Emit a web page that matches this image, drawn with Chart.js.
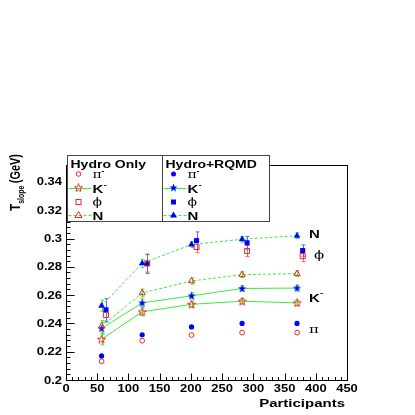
<!DOCTYPE html>
<html>
<head>
<meta charset="UTF-8">
<script src="https://cdn.jsdelivr.net/npm/chart.js"></script>
<style>
  html, body { margin: 0; padding: 0; background: #fff; }
</style>
</head>
<body>
<canvas id="c" width="415" height="415"></canvas>
<script>
// participants (x) for N, K-, pi points and the slightly shifted phi points
const participants = [57, 122, 201, 282, 370]
const participantsPhi = [64, 130, 209, 290, 379]

// Hydro+RQMD
const rqmdN = [0.2525, 0.2825, 0.2958, 0.2995, 0.3020]
const rqmdK = [0.2365, 0.2545, 0.2595, 0.2647, 0.2650]
const rqmdPi = [0.2170, 0.2320, 0.2375, 0.2400, 0.2400]
const rqmdPhi = [0.2495, 0.2822, 0.2985, 0.2970, 0.2915]
const rqmdPhiErr = [0.0080, 0.0068, 0.0062, 0.0045, 0.0040]

// Hydro only
const onlyN = [0.2380, 0.2615, 0.2700, 0.2745, 0.2752]
const onlyK = [0.2288, 0.2482, 0.2535, 0.2557, 0.2545]
const onlyPi = [0.2132, 0.2278, 0.2318, 0.2335, 0.2335]
const onlyPhi = [0.2460, 0.2825, 0.2940, 0.2912, 0.2876]
const onlyPhiErr = [0.0050, 0.0062, 0.0040, 0.0040, 0.0040]

// error on the hydro curves (green bars)
const curveErr = [0.0040, 0.0028, 0.0022, 0.0020, 0.0020]

const xTicks = [0, 50, 100, 150, 200, 250, 300, 350, 400, 450]
const yTicks = [0.2, 0.22, 0.24, 0.26, 0.28, 0.3, 0.32, 0.34]
const xTickLabels = ['0', '50', '100', '150', '200', '250', '300', '350', '400', '450']
const yTickLabels = ['0.2', '0.22', '0.24', '0.26', '0.28', '0.3', '0.32', '0.34']

const BLUE = '#0000ff'
const RED = '#ff2020'
const GREEN = '#3ee83e'
const SQ = 0.78 // vertical squash of all text (picture was stretched)

function pts(xs, ys) { return xs.map((x, i) => ({ x: x, y: ys[i] })) }

function starPath(ctx, cx, cy, ro, ri) {
  ctx.beginPath()
  for (let i = 0; i < 10; i++) {
    const r = i % 2 ? ri : ro
    const a = -Math.PI / 2 + i * Math.PI / 5
    ctx.lineTo(cx + r * Math.cos(a), cy + r * Math.sin(a))
  }
  ctx.closePath()
}

function makeStar(filled) {
  const c = document.createElement('canvas')
  c.width = 9; c.height = 9
  const g = c.getContext('2d')
  starPath(g, 4.5, 4.8, 4.2, 1.8)
  if (filled) { g.fillStyle = BLUE; g.fill() }
  else { g.strokeStyle = RED; g.lineWidth = 1; g.stroke() }
  return c
}
const blueStar = makeStar(true)
const redStar = makeStar(false)

function txt(ctx, s, x, y, font, align, sx, sy) {
  ctx.save()
  ctx.translate(x, y)
  ctx.scale(sx || 1, sy || SQ)
  ctx.font = font
  ctx.textAlign = align || 'left'
  ctx.textBaseline = 'alphabetic'
  ctx.fillStyle = '#000'
  ctx.fillText(s, 0, 0)
  ctx.restore()
}

function errBars(ctx, xs, ys, es, color, xScale, yScale) {
  ctx.save()
  ctx.strokeStyle = color
  ctx.lineWidth = 1
  xs.forEach((x, i) => {
    const px = Math.round(xScale.getPixelForValue(x)) + 0.5
    const y1 = yScale.getPixelForValue(ys[i] - es[i])
    const y2 = yScale.getPixelForValue(ys[i] + es[i])
    ctx.beginPath()
    ctx.moveTo(px, y1); ctx.lineTo(px, y2)
    ctx.moveTo(px - 2, y1); ctx.lineTo(px + 2, y1)
    ctx.moveTo(px - 2, y2); ctx.lineTo(px + 2, y2)
    ctx.stroke()
  })
  ctx.restore()
}

const rootPlugin = {
  id: 'rootStyle',
  beforeDatasetsDraw(chart) {
    const ctx = chart.ctx
    const xs = chart.scales.x, ys = chart.scales.y
    errBars(ctx, participants, rqmdN, curveErr, GREEN, xs, ys)
    errBars(ctx, participants, onlyN, curveErr, GREEN, xs, ys)
    errBars(ctx, participants, rqmdK, curveErr, GREEN, xs, ys)
    errBars(ctx, participants, onlyK, curveErr, GREEN, xs, ys)
    errBars(ctx, participantsPhi, onlyPhi, onlyPhiErr, '#ff6060', xs, ys)
    errBars(ctx, participantsPhi, rqmdPhi, rqmdPhiErr, '#6060ff', xs, ys)
  },
  afterDraw(chart) {
    const ctx = chart.ctx
    const a = chart.chartArea
    const xs = chart.scales.x, ys = chart.scales.y
    const L = a.left + 0.5, R = a.right + 0.5, T = a.top + 0.5, B = a.bottom + 0.5

    // frame
    ctx.save()
    ctx.strokeStyle = '#000'
    ctx.lineWidth = 1
    ctx.strokeRect(L, T, R - L, B - T)

    // inward ticks
    ctx.beginPath()
    for (let v = 0; v <= 450; v += 10) {
      const px = Math.round(xs.getPixelForValue(v)) + 0.5
      const len = v % 50 === 0 ? 7 : 3.5
      ctx.moveTo(px, B); ctx.lineTo(px, B - len)
    }
    for (let k = 0; k <= 38; k++) {
      const v = 0.2 + k * 0.004
      const py = Math.round(ys.getPixelForValue(v)) + 0.5
      if (py < T) break
      const len = k % 5 === 0 ? 8 : 4
      ctx.moveTo(L, py); ctx.lineTo(L + len, py)
    }
    ctx.stroke()
    ctx.restore()

    // tick labels
    const tf = 'bold 13px "Liberation Sans", Arial, sans-serif'
    xTicks.forEach((v, i) => {
      txt(ctx, xTickLabels[i], xs.getPixelForValue(v), 392, tf, 'center')
    })
    yTicks.forEach((v, i) => {
      txt(ctx, yTickLabels[i], 62, ys.getPixelForValue(v) + 3.5, tf, 'right')
    })

    // axis titles
    txt(ctx, 'Participants', 345, 407, 'bold 15px "Liberation Sans", Arial, sans-serif', 'right')
    ctx.save()
    ctx.translate(20, 211)
    ctx.rotate(-Math.PI / 2)
    ctx.scale(SQ, 1)
    ctx.fillStyle = '#000'
    ctx.textBaseline = 'alphabetic'
    ctx.font = 'bold 15px "Liberation Sans", Arial, sans-serif'
    ctx.fillText('T', 0, 0)
    let w = ctx.measureText('T').width
    ctx.font = 'bold 9px "Liberation Sans", Arial, sans-serif'
    ctx.fillText('slope', w, 4)
    w += ctx.measureText('slope').width + 3
    ctx.font = 'bold 14px "Liberation Sans", Arial, sans-serif'
    ctx.fillText('(GeV)', w, 0)
    ctx.restore()

    // labels at the right of the curves
    const bf = 'bold 15px "Liberation Sans", Arial, sans-serif'
    const sf = '15px "DejaVu Serif", "Liberation Serif", serif'
    txt(ctx, 'N', 309, 238, bf)
    txt(ctx, '\u03d5', 314, 259, sf)
    txt(ctx, 'K', 309, 302, bf)
    txt(ctx, '-', 320, 295, 'bold 10px "Liberation Sans", Arial, sans-serif')
    txt(ctx, '\u03c0', 309, 333, sf)

    // legend
    drawLegend(ctx)
  }
}

function legendMarker(ctx, kind, x, y, color, filled) {
  ctx.save()
  ctx.strokeStyle = color
  ctx.fillStyle = color
  ctx.lineWidth = 1
  if (kind === 'circle') {
    ctx.beginPath(); ctx.arc(x, y, filled ? 2.5 : 2.3, 0, Math.PI * 2)
    filled ? ctx.fill() : ctx.stroke()
  } else if (kind === 'square') {
    filled ? ctx.fillRect(x - 2.5, y - 2.5, 5, 5) : ctx.strokeRect(x - 2.5, y - 2.5, 5, 5)
  } else if (kind === 'tri') {
    ctx.beginPath(); ctx.moveTo(x, y - 3.5); ctx.lineTo(x + 3.5, y + 2.5); ctx.lineTo(x - 3.5, y + 2.5); ctx.closePath()
    filled ? ctx.fill() : ctx.stroke()
  } else if (kind === 'star') {
    ctx.drawImage(filled ? blueStar : redStar, x - 4.5, y - 4.8)
  }
  ctx.restore()
}

function legendLine(ctx, x1, x2, y, dashed) {
  ctx.save()
  ctx.strokeStyle = GREEN
  ctx.lineWidth = 1
  if (dashed) ctx.setLineDash([3, 2])
  ctx.beginPath(); ctx.moveTo(x1, y + 0.5); ctx.lineTo(x2, y + 0.5); ctx.stroke()
  ctx.restore()
}

function drawLegend(ctx) {
  const top = 155.5, bot = 221.5
  const boxes = [
    { l: 67.5, r: 162.5, head: 'Hydro Only', color: RED, filled: false },
    { l: 162.5, r: 269.5, head: 'Hydro+RQMD', color: BLUE, filled: true }
  ]
  const rows = [174, 188, 202, 215]
  const hf = 'bold 14px "Liberation Sans", Arial, sans-serif'
  const bf = 'bold 15px "Liberation Sans", Arial, sans-serif'
  const sf = '14px "DejaVu Serif", "Liberation Serif", serif'
  boxes.forEach(b => {
    ctx.save()
    ctx.fillStyle = '#fff'
    ctx.fillRect(b.l, top, b.r - b.l, bot - top)
    ctx.strokeStyle = '#444'
    ctx.lineWidth = 1
    ctx.strokeRect(b.l, top, b.r - b.l, bot - top)
    ctx.restore()
    txt(ctx, b.head, b.l + 3, 168, hf)
    const mx = b.l + 11
    const tx = b.l + 25
    legendLine(ctx, b.l + 1, b.l + 24, rows[1], false)
    legendLine(ctx, b.l + 1, b.l + 24, rows[3], true)
    legendMarker(ctx, 'circle', mx, rows[0], b.color, b.filled)
    legendMarker(ctx, 'star', mx, rows[1], b.color, b.filled)
    legendMarker(ctx, 'square', mx, rows[2], b.color, b.filled)
    legendMarker(ctx, 'tri', mx, rows[3], b.color, b.filled)
    txt(ctx, '\u03c0', tx, rows[0] + 4, sf)
    txt(ctx, '-', tx + 9, rows[0] - 1, 'bold 9px "Liberation Sans", Arial, sans-serif')
    txt(ctx, 'K', tx, rows[1] + 5, bf)
    txt(ctx, '-', tx + 11, rows[1] - 1, 'bold 10px "Liberation Sans", Arial, sans-serif')
    txt(ctx, '\u03d5', tx, rows[2] + 4, sf)
    txt(ctx, 'N', tx, rows[3] + 5, bf)
  })
}

new Chart(document.getElementById('c'), {
  type: 'scatter',
  data: {
    datasets: [
      { data: pts(participants, rqmdN), showLine: true, borderColor: GREEN, borderWidth: 1, borderDash: [3, 2],
        pointStyle: 'triangle', pointRadius: 3.4, pointBackgroundColor: BLUE, pointBorderColor: BLUE, pointBorderWidth: 0.5 },
      { data: pts(participants, onlyN), showLine: true, borderColor: GREEN, borderWidth: 1, borderDash: [3, 2],
        pointStyle: 'triangle', pointRadius: 3.6, pointBackgroundColor: 'rgba(0,0,0,0)', pointBorderColor: RED, pointBorderWidth: 1 },
      { data: pts(participants, rqmdK), showLine: true, borderColor: GREEN, borderWidth: 1,
        pointStyle: blueStar },
      { data: pts(participants, onlyK), showLine: true, borderColor: GREEN, borderWidth: 1,
        pointStyle: redStar },
      { data: pts(participants, rqmdPi), showLine: false,
        pointStyle: 'circle', pointRadius: 2.6, pointBackgroundColor: BLUE, pointBorderColor: BLUE, pointBorderWidth: 0 },
      { data: pts(participants, onlyPi), showLine: false,
        pointStyle: 'circle', pointRadius: 2.4, pointBackgroundColor: 'rgba(0,0,0,0)', pointBorderColor: RED, pointBorderWidth: 1 },
      { data: pts(participantsPhi, onlyPhi), showLine: false,
        pointStyle: 'rect', pointRadius: 3.6, pointBackgroundColor: 'rgba(0,0,0,0)', pointBorderColor: RED, pointBorderWidth: 1 },
      { data: pts(participantsPhi, rqmdPhi), showLine: false,
        pointStyle: 'rect', pointRadius: 3.6, pointBackgroundColor: BLUE, pointBorderColor: BLUE, pointBorderWidth: 0 }
    ]
  },
  options: {
    responsive: false,
    animation: false,
    devicePixelRatio: 1,
    layout: { padding: { left: 66, top: 165, right: 68, bottom: 35 } },
    plugins: { legend: { display: false }, tooltip: { enabled: false } },
    scales: {
      x: { type: 'linear', min: 0, max: 450, display: false },
      y: { type: 'linear', min: 0.2, max: 0.352, display: false }
    }
  },
  plugins: [rootPlugin]
})
</script>
</body>
</html>
